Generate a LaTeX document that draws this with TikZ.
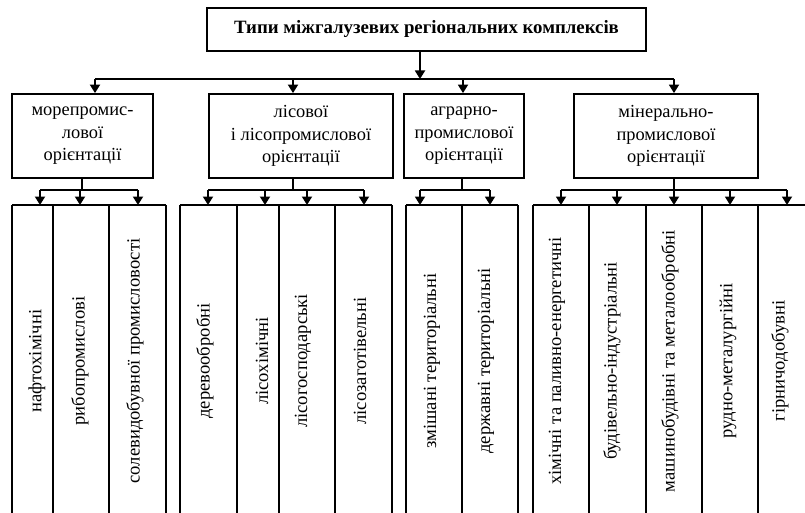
\documentclass[tikz,border=0pt]{standalone}
\usepackage{fontspec}
\setmainfont{Liberation Serif}
\usetikzlibrary{arrows.meta}
\begin{document}
\begin{tikzpicture}[x=1pt,y=-1pt,
  box/.style={draw,line width=1.8pt,align=center,inner sep=0pt,font=\fontsize{18.4}{22.5}\selectfont},
  coltext/.style={rotate=90,inner sep=0pt,font=\fontsize{18.6}{20}\selectfont},
  ln/.style={line width=1.8pt},
  arr/.style={line width=1.8pt,-{Triangle[length=8.5pt,width=10pt]}}]
\useasboundingbox (0,0) rectangle (805,513);

% top box
\node[box,font=\bfseries\fontsize{18.8}{22}\selectfont,minimum width=439pt,minimum height=43pt] (top) at (426.5,29.5) {Типи міжгалузевих регіональних комплексів};

% level 2 boxes
\node[box,minimum width=141pt,minimum height=84pt] (b1) at (82.5,136) {морепромис-\\лової\\орієнтації};
\node[box,minimum width=184pt,minimum height=84pt] (b2) at (301,136) {лісової\\і лісопромислової\\орієнтації};
\node[box,minimum width=120pt,minimum height=84pt] (b3) at (464,136) {аграрно-\\промислової\\орієнтації};
\node[box,minimum width=184pt,minimum height=84pt] (b4) at (666,136) {мінерально-\\промислової\\орієнтації};

% top distribution
\coordinate (h0) at (420,79);
\coordinate (h1) at (95,79);
\coordinate (h2) at (293,79);
\coordinate (h3) at (463,79);
\coordinate (h4) at (674,79);
\draw[arr] (top.south -| h0) -- (h0);
\draw[ln] (h1) -- (h4);
\draw[arr] (h1) -- (h1 |- b1.north);
\draw[arr] (h2) -- (h2 |- b2.north);
\draw[arr] (h3) -- (h3 |- b3.north);
\draw[arr] (h4) -- (h4 |- b4.north);

% branch stems
\coordinate (s1) at (82,190);
\coordinate (s2) at (293,190);
\coordinate (s3) at (462,190);
\coordinate (s4) at (674,190);
\draw[ln] (b1.south -| s1) -- (s1);
\draw[ln] (b2.south -| s2) -- (s2);
\draw[ln] (b3.south -| s3) -- (s3);
\draw[ln] (b4.south -| s4) -- (s4);
\draw[ln] (40,190) -- (138,190);
\draw[ln] (208,190) -- (364,190);
\draw[ln] (420,190) -- (490,190);
\draw[ln] (561,190) -- (787,190);
\foreach \x in {40,80,138,208,265,307,364,420,490,561,617,674,730,787}
  \draw[arr] (\x,190) -- (\x,205);

% column frames (open at the bottom)
\draw[ln] (12,205) -- (166,205);
\draw[ln] (180,205) -- (392,205);
\draw[ln] (406,205) -- (518,205);
\draw[ln] (533,205) -- (805,205);
\foreach \x in {12,53,109,166,180,237,279,335,392,406,462,518,533,589,646,702,758}
  \draw[ln] (\x,205) -- (\x,513);

% column texts
\node[coltext] (c11) at (37,361) {нафтохімічні};
\node[coltext] (c12) at (80,361) {рибопромислові};
\node[coltext] (c13) at (135,361) {солевидобувної промисловості};
\node[coltext] (c21) at (205,361) {деревообробні};
\node[coltext] (c22) at (262,361) {лісохімічні};
\node[coltext] (c23) at (303,361) {лісогосподарські};
\node[coltext] (c24) at (360,361) {лісозаготівельні};
\node[coltext] (c31) at (432,361) {змішані територіальні};
\node[coltext] (c32) at (486,361) {державні територіальні};
\node[coltext] (c41) at (557,361) {хімічні та паливно-енергетичні};
\node[coltext] (c42) at (612,361) {будівельно-індустріальні};
\node[coltext] (c43) at (670,361) {машинобудівні та металообробні};
\node[coltext] (c44) at (728,361) {рудно-металургійні};
\node[coltext] (c45) at (780,361) {гірничодобувні};
\end{tikzpicture}
\end{document}
